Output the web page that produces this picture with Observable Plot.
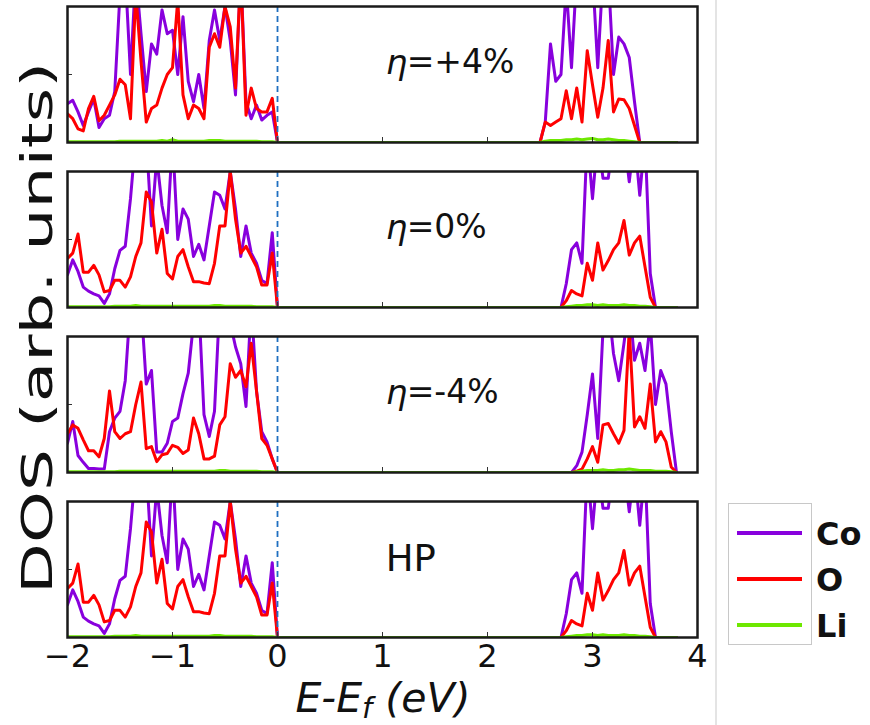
<!DOCTYPE html>
<html>
<head>
<meta charset="utf-8">
<script src="https://cdn.jsdelivr.net/npm/d3@7"></script>
<script src="https://cdn.jsdelivr.net/npm/@observablehq/plot@0.6"></script>
<style>
  body { margin: 0; background: #fff; font-family: "DejaVu Sans", sans-serif; }
  #wrap { position: relative; width: 870px; height: 725px; overflow: hidden; background: #fff; }
  #chart { position: absolute; left: 0; top: 0; }
  #divider { position: absolute; left: 715px; top: 0; width: 0; height: 725px; border-left: 2px solid #e4e4e4; }
  #legend { position: absolute; left: 720px; top: 495px; }
</style>
</head>
<body>
<div id="wrap">
  <div id="chart"></div>
  <div id="divider"></div>
  <div id="legend"></div>
</div>
<script>
// Panels (top to bottom) and projected species
const panels = ["η=+4%", "η=0%", "η=-4%", "HP"];
const species = ["Co", "O", "Li"];
const speciesColors = ["#8800dd", "#ff0000", "#6ee800"];
const xTicks = [-2, -1, 0, 1, 2, 3, 4];

// Energy grids (eV, relative to E_f): valence band and conduction band
const energyVB = [-2.00, -1.95, -1.90, -1.85, -1.80, -1.75, -1.70, -1.65, -1.60, -1.55,
                  -1.50, -1.45, -1.40, -1.35, -1.30, -1.25, -1.20, -1.15, -1.10, -1.05,
                  -1.00, -0.95, -0.90, -0.85, -0.80, -0.75, -0.70, -0.65, -0.60, -0.55,
                  -0.50, -0.45, -0.40, -0.35, -0.30, -0.25, -0.20, -0.15, -0.10, -0.05, 0.00];
const energyCB = [2.50, 2.55, 2.60, 2.65, 2.70, 2.75, 2.80, 2.85, 2.90, 2.95,
                  3.00, 3.05, 3.10, 3.15, 3.20, 3.25, 3.30, 3.35, 3.40, 3.45,
                  3.50, 3.55, 3.60, 3.65, 3.70, 3.75, 3.80];

// η = +4 %
const coP4VB = [0.57, 0.62, 0.45, 0.25, 0.45, 0.64, 0.22, 0.35, 0.40, 0.75,
                2.20, 2.50, 1.00, 2.50, 1.60, 0.75, 1.45, 1.30, 1.95, 1.60,
                1.65, 1.00, 1.85, 0.90, 0.60, 1.00, 0.50, 1.50, 1.95, 1.50,
                2.00, 1.50, 0.70, 2.50, 0.60, 0.35, 0.55, 0.33, 0.40, 0.45, 0];
const oP4VB  = [0.42, 0.35, 0.20, 0.17, 0.50, 0.68, 0.32, 0.40, 0.55, 0.70,
                0.93, 0.85, 0.35, 2.20, 1.20, 0.30, 0.50, 0.55, 0.80, 1.00,
                1.10, 2.10, 0.70, 0.35, 0.55, 0.50, 0.35, 1.40, 1.60, 1.40,
                2.00, 1.70, 0.80, 2.50, 0.40, 0.80, 0.50, 0.45, 0.45, 0.65, 0];
const liP4VB = [0.01, 0.01, 0.01, 0.01, 0.01, 0.01, 0.01, 0.01, 0.01, 0.01,
                0.02, 0.02, 0.02, 0.02, 0.02, 0.02, 0.02, 0.02, 0.03, 0.02,
                0.04, 0.02, 0.02, 0.02, 0.02, 0.02, 0.02, 0.03, 0.03, 0.03,
                0.02, 0.02, 0.02, 0.02, 0.02, 0.02, 0.02, 0.01, 0.01, 0.01, 0];
const coP4CB = [0, 0.30, 1.45, 0.90, 1.00, 2.30, 1.10, 2.50, 2.50, 2.20,
                2.50, 1.10, 2.50, 2.50, 1.00, 1.55, 1.45, 1.25, 0.60, 0,
                0, 0, 0, 0, 0, 0, 0];
const oP4CB  = [0, 0.30, 0.25, 0.30, 0.35, 0.76, 0.35, 0.80, 0.30, 1.35,
                0.85, 0.37, 0.80, 1.50, 0.45, 0.64, 0.63, 0.50, 0.25, 0,
                0, 0, 0, 0, 0, 0, 0];
const liP4CB = [0, 0.02, 0.03, 0.03, 0.03, 0.04, 0.04, 0.05, 0.04, 0.05,
                0.06, 0.04, 0.04, 0.05, 0.04, 0.03, 0.03, 0.02, 0.01, 0,
                0, 0, 0, 0, 0, 0, 0];

// η = 0 %
const co0VB = [0.48, 0.70, 0.53, 0.30, 0.24, 0.20, 0.17, 0.06, 0.20, 0.57,
               0.84, 0.90, 1.60, 2.50, 2.50, 2.50, 1.20, 2.20, 1.50, 1.10,
               2.50, 1.00, 1.45, 1.30, 0.75, 0.93, 0.70, 1.20, 1.70, 1.65,
               1.45, 2.00, 1.45, 0.75, 1.20, 0.80, 0.65, 0.40, 0.35, 1.10, 0];
const o0VB  = [0.72, 0.80, 1.08, 0.52, 0.52, 0.62, 0.48, 0.23, 0.25, 0.40,
               0.40, 0.30, 0.45, 0.75, 0.95, 1.70, 1.55, 0.80, 1.15, 0.50,
               0.42, 0.75, 0.85, 0.60, 0.38, 0.38, 0.36, 0.35, 0.65, 1.20,
               1.20, 2.00, 1.30, 0.80, 0.90, 0.75, 0.60, 0.33, 0.33, 0.80, 0];
const li0VB = [0.01, 0.01, 0.01, 0.01, 0.01, 0.01, 0.01, 0.01, 0.01, 0.02,
               0.02, 0.02, 0.02, 0.03, 0.02, 0.02, 0.02, 0.02, 0.02, 0.02,
               0.02, 0.02, 0.02, 0.02, 0.02, 0.02, 0.02, 0.02, 0.03, 0.03,
               0.02, 0.02, 0.02, 0.02, 0.02, 0.02, 0.01, 0.01, 0.01, 0.01, 0];
const co0CB = [0, 0, 0, 0, 0, 0.35, 0.85, 0.95, 0.65, 2.50,
               1.60, 2.50, 1.90, 1.90, 2.50, 2.50, 2.50, 1.85, 2.50, 1.65,
               2.50, 0.50, 0, 0, 0, 0, 0];
const o0CB  = [0, 0, 0, 0, 0, 0.10, 0.25, 0.20, 0.17, 0.65,
               0.40, 0.95, 0.55, 0.69, 0.85, 0.95, 1.28, 0.77, 0.95, 1.05,
               0.60, 0.15, 0, 0, 0, 0, 0];
const li0CB = [0, 0, 0, 0, 0, 0.01, 0.02, 0.03, 0.03, 0.04,
               0.04, 0.03, 0.04, 0.03, 0.03, 0.03, 0.04, 0.03, 0.03, 0.02,
               0.02, 0.01, 0, 0, 0, 0, 0];

// η = -4 %
const coM4VB = [0.43, 0.75, 0.25, 0.15, 0.06, 0.06, 0.05, 0.05, 0.60, 0.80,
                0.90, 1.35, 2.50, 2.50, 2.50, 1.30, 1.50, 0.30, 0.30, 0.43,
                0.75, 0.80, 1.16, 1.46, 2.20, 2.50, 0.85, 0.53, 0.90, 2.50,
                2.50, 2.20, 1.85, 1.60, 0.97, 2.50, 1.20, 0.60, 0.45, 0.20, 0];
const oM4VB  = [0.57, 0.70, 0.65, 0.48, 0.32, 0.32, 0.23, 0.50, 1.20, 0.60,
                0.50, 0.57, 0.60, 1.00, 1.33, 0.35, 0.38, 0.16, 0.26, 0.28,
                0.40, 0.37, 0.28, 0.33, 0.80, 0.57, 0.20, 0.20, 0.24, 0.70,
                0.82, 1.60, 1.40, 1.50, 1.26, 1.90, 1.20, 0.50, 0.40, 0.20, 0];
const liM4VB = [0.01, 0.01, 0.01, 0.01, 0.01, 0.01, 0.01, 0.01, 0.01, 0.01,
                0.02, 0.02, 0.02, 0.02, 0.02, 0.02, 0.02, 0.02, 0.02, 0.02,
                0.02, 0.02, 0.02, 0.02, 0.02, 0.02, 0.02, 0.02, 0.02, 0.03,
                0.03, 0.02, 0.02, 0.02, 0.02, 0.02, 0.02, 0.01, 0.01, 0.01, 0];
const coM4CB = [0, 0, 0, 0, 0, 0, 0, 0.10, 0.30, 0.85,
                1.45, 0.50, 2.10, 2.50, 1.75, 1.35, 1.90, 2.50, 1.65, 1.90,
                1.50, 2.20, 1.00, 1.50, 1.30, 0.60, 0];
const oM4CB  = [0, 0, 0, 0, 0, 0, 0, 0.02, 0.05, 0.20,
                0.38, 0.15, 0.70, 0.72, 0.57, 0.43, 0.62, 2.10, 0.67, 0.82,
                0.65, 1.30, 0.45, 0.60, 0.45, 0.08, 0];
const liM4CB = [0, 0, 0, 0, 0, 0, 0, 0.01, 0.02, 0.03,
                0.03, 0.03, 0.04, 0.03, 0.03, 0.04, 0.04, 0.05, 0.04, 0.03,
                0.03, 0.03, 0.02, 0.02, 0.02, 0.01, 0];

// HP: same projected DOS as the unstrained (η = 0 %) structure
const coHPVB = co0VB, oHPVB = o0VB, liHPVB = li0VB;
const coHPCB = co0CB, oHPCB = o0CB, liHPCB = li0CB;

// One row per (panel, species, energy)
function rows(panel, sp, vb, cb) {
  return [
    ...energyVB.map((E, i) => ({panel, species: sp, E, dos: vb[i]})),
    ...energyCB.map((E, i) => ({panel, species: sp, E, dos: cb[i]}))
  ];
}

const data = [
  ...rows(panels[0], "Co", coP4VB, coP4CB), ...rows(panels[0], "O", oP4VB, oP4CB), ...rows(panels[0], "Li", liP4VB, liP4CB),
  ...rows(panels[1], "Co", co0VB, co0CB),   ...rows(panels[1], "O", o0VB, o0CB),   ...rows(panels[1], "Li", li0VB, li0CB),
  ...rows(panels[2], "Co", coM4VB, coM4CB), ...rows(panels[2], "O", oM4VB, oM4CB), ...rows(panels[2], "Li", liM4VB, liM4CB),
  ...rows(panels[3], "Co", coHPVB, coHPCB), ...rows(panels[3], "O", oHPVB, oHPCB), ...rows(panels[3], "Li", liHPVB, liHPCB)
];

const etaPanels = panels.filter(p => p.startsWith("η"));
const plainPanels = panels.filter(p => !p.startsWith("η"));

const chart = Plot.plot({
  width: 712,
  height: 725,
  marginLeft: 67,
  marginRight: 15,
  marginTop: 5,
  marginBottom: 88,
  style: {fontFamily: "DejaVu Sans", background: "transparent", color: "#111"},
  x: {domain: [-2, 4]},
  y: {domain: [0, 2], axis: null},
  fy: {domain: panels, axis: null, paddingInner: 0.177, paddingOuter: 0},
  color: {domain: species, range: speciesColors},
  marks: [
    Plot.line(data, {x: "E", y: "dos", z: "species", stroke: "species", fy: "panel",
                     strokeWidth: 3, clip: true}),
    Plot.ruleX([0], {stroke: "#1f6fc0", strokeWidth: 1.8, strokeDasharray: "6,4"}),
    Plot.tickX(xTicks, {x: d => d, stroke: "#333", strokeWidth: 1, insetTop: 131}),
    Plot.tickY([1], {y: d => d, stroke: "#333", strokeWidth: 1, insetRight: 625}),
    Plot.frame({stroke: "#1a1a1a", strokeWidth: 2.5}),
    Plot.text(etaPanels, {fy: d => d, x: 1.03, text: () => "η", frameAnchor: "top", dy: 43,
                          textAnchor: "start", fontSize: 34, fontStyle: "italic", fill: "#111"}),
    Plot.text(etaPanels, {fy: d => d, x: 1.03, text: d => d.slice(1), frameAnchor: "top", dy: 43, dx: 21,
                          textAnchor: "start", fontSize: 33, fill: "#111"}),
    Plot.text(plainPanels, {fy: d => d, x: 1.03, text: d => d, frameAnchor: "top", dy: 43,
                            textAnchor: "start", fontSize: 37, fill: "#111"}),
    Plot.axisX(xTicks, {anchor: "bottom", tickSize: 0, tickPadding: 7, fontSize: 32, label: null,
                        fill: "#111", tickFormat: d => (d < 0 ? "\u2212" + (-d) : String(d))})
  ]
});

document.getElementById("chart").appendChild(chart);

// Axis titles
const svg = d3.select(chart);
svg.append("text")
  .attr("transform", "translate(52,328) rotate(-90)")
  .attr("text-anchor", "middle")
  .attr("font-family", "DejaVu Sans")
  .attr("font-size", 42)
  .attr("fill", "#111")
  .attr("textLength", 532)
  .attr("lengthAdjust", "spacingAndGlyphs")
  .text("DOS (arb. units)");

const xl = svg.append("text")
  .attr("x", 383)
  .attr("y", 712)
  .attr("text-anchor", "middle")
  .attr("font-family", "DejaVu Sans")
  .attr("font-size", 41)
  .attr("font-style", "italic")
  .attr("fill", "#111");
xl.append("tspan").text("E-E");
xl.append("tspan").attr("font-size", 29).attr("dy", 6).text("f");
xl.append("tspan").attr("dy", -6).text(" (eV)");

// Legend
const lg = d3.select("#legend").append("svg").attr("width", 150).attr("height", 160);
lg.append("rect")
  .attr("x", 8.5).attr("y", 8.5).attr("width", 83).attr("height", 141)
  .attr("fill", "#fff").attr("stroke", "#c8c8c8").attr("stroke-width", 1);
species.forEach((s, i) => {
  const y = 38 + i * 46;
  lg.append("line")
    .attr("x1", 17).attr("x2", 82).attr("y1", y).attr("y2", y)
    .attr("stroke", speciesColors[i]).attr("stroke-width", 4);
  lg.append("text")
    .attr("x", 96).attr("y", y + 12)
    .attr("font-family", "DejaVu Sans").attr("font-weight", "bold")
    .attr("font-size", 32).attr("fill", "#111")
    .text(s);
});
</script>
</body>
</html>
